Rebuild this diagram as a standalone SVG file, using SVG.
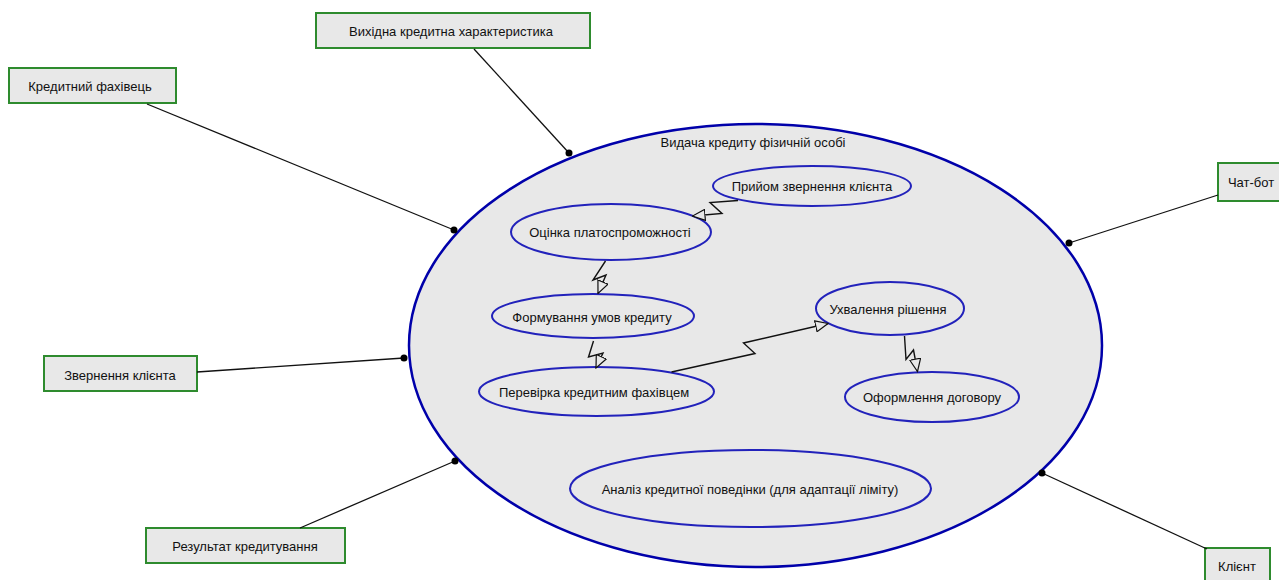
<svg xmlns="http://www.w3.org/2000/svg" width="1279" height="580" viewBox="0 0 1279 580">
  <defs>
    <style>
      .bg { fill: #ffffff; }
      .sys { fill: #e8e8e8; stroke: #0000aa; stroke-width: 2.5; }
      .uc { fill: #e8e8e8; stroke: #2222bb; stroke-width: 2; }
      .actor { fill: #e8e8e8; stroke: #2e8b2e; stroke-width: 2; }
      .lbl { font-family: "Liberation Sans", Arial, sans-serif; font-size: 13px; fill: #111111; text-anchor: middle; dominant-baseline: central; }
      .assoc { fill: none; stroke: #111111; stroke-width: 1.3; }
      .flow { fill: none; stroke: #111111; stroke-width: 1.4; marker-end: url(#open); }
      .dot { fill: #000000; }
    </style>
    <marker id="open" viewBox="0 0 14 12" refX="13" refY="6" markerWidth="14" markerHeight="12" markerUnits="userSpaceOnUse" orient="auto">
      <path d="M0.5,0.5 L13,6 L0.5,11.5 Z" fill="#e8e8e8" stroke="#111111" stroke-width="1.2"/>
    </marker>
  </defs>

  <rect class="bg" x="0" y="0" width="1279" height="580"/>

  <!-- system boundary -->
  <g id="system">
    <ellipse class="sys" cx="755.5" cy="345.5" rx="346.5" ry="221.5"/>
    <text class="lbl" x="753" y="142">Видача кредиту фізичній особі</text>
  </g>

  <!-- use cases -->
  <g id="uc-receive">
    <ellipse class="uc" cx="812" cy="186" rx="99" ry="20"/>
    <text class="lbl" x="812" y="186">Прийом звернення клієнта</text>
  </g>
  <g id="uc-solvency">
    <ellipse class="uc" cx="611" cy="232" rx="100" ry="28"/>
    <text class="lbl" x="610" y="232">Оцінка платоспроможності</text>
  </g>
  <g id="uc-terms">
    <ellipse class="uc" cx="593" cy="316" rx="101" ry="22"/>
    <text class="lbl" x="592" y="317">Формування умов кредиту</text>
  </g>
  <g id="uc-check">
    <ellipse class="uc" cx="596.5" cy="391.5" rx="117.5" ry="24.5"/>
    <text class="lbl" x="594" y="392">Перевірка кредитним фахівцем</text>
  </g>
  <g id="uc-decision">
    <ellipse class="uc" cx="890" cy="308.5" rx="74" ry="26.5"/>
    <text class="lbl" x="888" y="309">Ухвалення рішення</text>
  </g>
  <g id="uc-contract">
    <ellipse class="uc" cx="932" cy="397" rx="87" ry="25"/>
    <text class="lbl" x="932" y="397">Оформлення договору</text>
  </g>
  <g id="uc-behaviour">
    <ellipse class="uc" cx="750.5" cy="488.5" rx="180.5" ry="38.5"/>
    <text class="lbl" x="750" y="489">Аналіз кредитної поведінки (для адаптації ліміту)</text>
  </g>

  <!-- actors -->
  <g id="actor-output">
    <rect class="actor" x="316" y="13" width="274" height="35"/>
    <text class="lbl" x="451" y="31">Вихідна кредитна характеристика</text>
  </g>
  <g id="actor-officer">
    <rect class="actor" x="9" y="68" width="167" height="35"/>
    <text class="lbl" x="90" y="86">Кредитний фахівець</text>
  </g>
  <g id="actor-chatbot">
    <rect class="actor" x="1218" y="163" width="66" height="38"/>
    <text class="lbl" x="1251" y="182">Чат-бот</text>
  </g>
  <g id="actor-request">
    <rect class="actor" x="44" y="356" width="153" height="35"/>
    <text class="lbl" x="120" y="375">Звернення клієнта</text>
  </g>
  <g id="actor-result">
    <rect class="actor" x="146" y="528" width="199" height="35"/>
    <text class="lbl" x="245" y="546">Результат кредитування</text>
  </g>
  <g id="actor-client">
    <rect class="actor" x="1205" y="548" width="65" height="40"/>
    <text class="lbl" x="1237" y="566">Клієнт</text>
  </g>

  <!-- connectors -->
  <g id="connectors">
    <line class="assoc" x1="474" y1="49" x2="569" y2="153"/>
    <circle class="dot" cx="569" cy="153" r="3.5"/>
    <line class="assoc" x1="147" y1="104" x2="454" y2="230"/>
    <circle class="dot" cx="454" cy="230" r="3.5"/>
    <line class="assoc" x1="1218" y1="195" x2="1069" y2="243"/>
    <circle class="dot" cx="1069" cy="243" r="3.5"/>
    <line class="assoc" x1="197" y1="372" x2="404" y2="358"/>
    <circle class="dot" cx="404" cy="358" r="3.5"/>
    <line class="assoc" x1="300" y1="528" x2="455" y2="461"/>
    <circle class="dot" cx="455" cy="461" r="3.5"/>
    <line class="assoc" x1="1207" y1="549" x2="1042" y2="473"/>
    <circle class="dot" cx="1042" cy="473" r="3.5"/>

    <polyline class="flow" points="738,200.5 710,202.5 722,213.5 692.5,216"/>
    <polyline class="flow" points="605.5,261 593,280 606,275 598,293.5"/>
    <polyline class="flow" points="593.5,341 588.5,357 603,353 596,368"/>
    <polyline class="flow" points="671.5,372 755,353.5 743.5,343 828,323.5"/>
    <polyline class="flow" points="904.5,336 906,359.5 913.5,350 917.5,371.5"/>
  </g>
</svg>
